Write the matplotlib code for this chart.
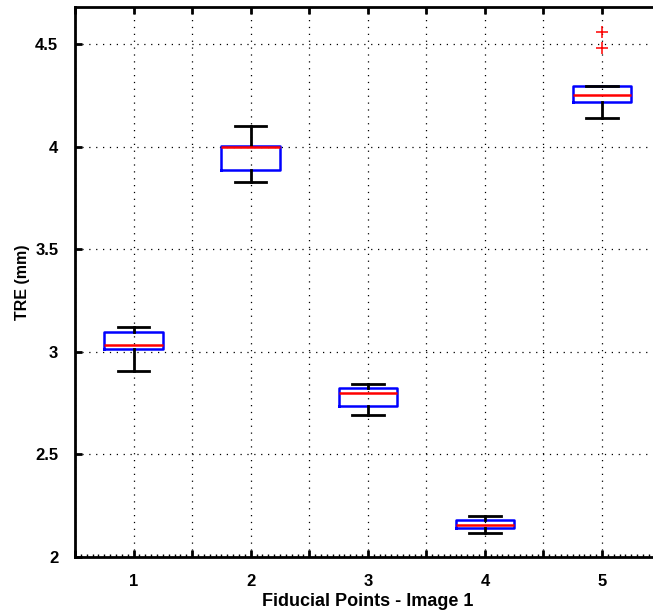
import matplotlib
matplotlib.use("Agg")
import matplotlib.pyplot as plt
from matplotlib.ticker import MultipleLocator, FuncFormatter

positions = [1, 2, 3, 4, 5]
whislo = [2.907, 3.828, 2.691, 2.116, 4.141]
q1 = [3.015, 3.887, 2.735, 2.142, 4.217]
med = [3.034, 4.000, 2.799, 2.155, 4.255]
q3 = [3.098, 4.005, 2.824, 2.181, 4.296]
whishi = [3.123, 4.103, 2.843, 2.201, 4.296]
fliers = [[], [], [], [], [4.482, 4.558]]
xlabel = "Fiducial Points - Image 1"
ylabel = "TRE (mm)"

plt.rcParams['font.family'] = ['Liberation Sans', 'DejaVu Sans']

fig = plt.figure(figsize=(6.53, 6.13), dpi=100)
ax = fig.add_axes([75/653, 56/613, 585.6/653, 550/613])

stats = []
for i in range(len(positions)):
    stats.append(dict(whislo=whislo[i], q1=q1[i], med=med[i], q3=q3[i],
                      whishi=whishi[i], fliers=fliers[i]))

ax.bxp(stats, positions=positions, widths=0.5, showfliers=True,
       boxprops=dict(color='#0000ff', linewidth=1.8),
       medianprops=dict(color='#ff0000', linewidth=1.8),
       whiskerprops=dict(color='black', linewidth=2.0),
       capprops=dict(color='black', linewidth=2.0),
       flierprops=dict(marker='+', markeredgecolor='#ff0000', markersize=8,
                       markeredgewidth=1.1, linestyle='none'),
       capwidths=0.27)

ax.set_xlim(0.5, 5.5)
ax.set_ylim(2.0, 4.682)

ax.xaxis.set_major_locator(MultipleLocator(0.5))
ax.xaxis.set_major_formatter(FuncFormatter(lambda v, p: f"{int(round(v))}" if abs(v - round(v)) < 1e-6 else ""))
ax.xaxis.set_minor_locator(MultipleLocator(0.05))
ax.yaxis.set_major_locator(MultipleLocator(0.5))
ax.yaxis.set_major_formatter(FuncFormatter(lambda v, p: f"{v:g}"))

ax.grid(True, which='major', linestyle=(0, (1, 4.5)), color='black', linewidth=0.9)
ax.set_axisbelow(True)

ax.tick_params(axis='both', which='major', direction='in', length=5, width=2,
               labelsize=12, top=True, right=False)
ax.tick_params(axis='x', which='major', pad=12)
ax.tick_params(axis='y', which='major', pad=12)
ax.tick_params(axis='x', which='minor', direction='in', length=2.5, width=1, top=False)

for lab in ax.get_xticklabels() + ax.get_yticklabels():
    lab.set_fontweight('bold')

for s in ['left', 'bottom', 'top']:
    ax.spines[s].set_linewidth(2)
ax.spines['right'].set_visible(False)

ax.set_xlabel(xlabel, fontsize=13, fontweight='bold', labelpad=3)
ax.set_ylabel(ylabel, fontsize=11.5, fontweight='bold', labelpad=4)

fig.savefig("out.png", dpi=100)
